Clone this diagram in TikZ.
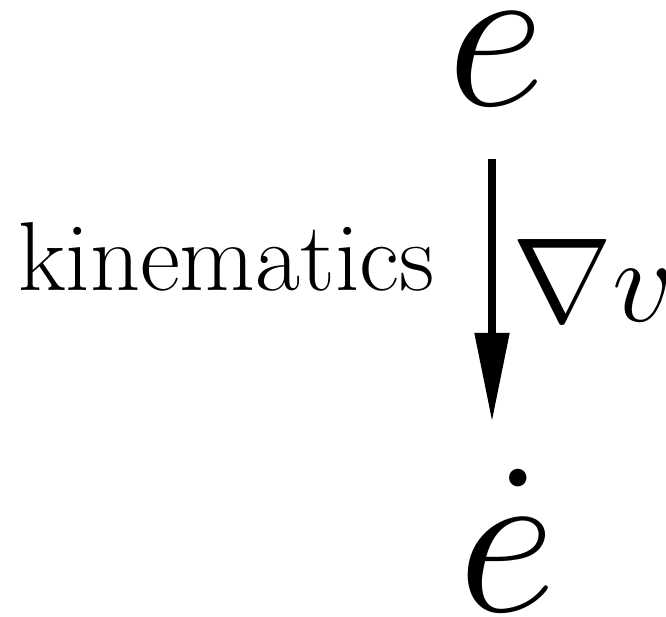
\RequirePackage{fix-cm}
\documentclass[tikz,border=0pt]{standalone}
\usetikzlibrary{arrows.meta}
\begin{document}
\begin{tikzpicture}[x=1pt,y=1pt,
  lbl/.style={inner sep=0pt,outer sep=0pt,anchor=base},
  big/.style={font=\fontsize{215}{215}\selectfont},
  mid/.style={font=\fontsize{98}{98}\selectfont},
  conn/.style={line width=8pt,-{Triangle[length=89pt,width=33pt]}}]
\useasboundingbox (0,0) rectangle (666,616);
\node[lbl,big] (e) at (496,510) {$e$};
\node[lbl,big] (edot) at (507,5) {$\dot{e}$};
\coordinate (a) at (492,457);
\coordinate (b) at (492,194);
\draw[conn] (a) -- (b);
\node[lbl,mid,anchor=base west] (kin) at (18,325) {kinematics};
\node[lbl,anchor=base west,font=\fontsize{120}{120}\selectfont] (nab) at (512,294) {$\nabla v$};
\end{tikzpicture}
\end{document}
